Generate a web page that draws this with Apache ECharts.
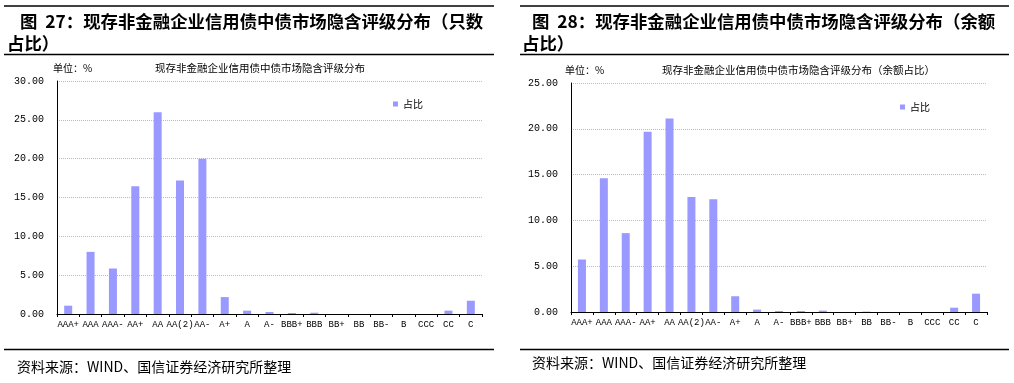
<!DOCTYPE html>
<html><head><meta charset="utf-8">
<script src="https://cdn.jsdelivr.net/npm/echarts@6/dist/echarts.min.js"></script>
<style>html,body{margin:0;padding:0;background:#fff}#c{width:1014px;height:383px}</style>
</head><body><div id="c"></div>
<script>
const categories = ['AAA+','AAA','AAA-','AA+','AA','AA(2)','AA-','A+','A','A-','BBB+','BBB','BB+','BB','BB-','B','CCC','CC','C'];
const countShare = [1.07,8.0,5.86,16.44,25.98,17.2,20.0,2.18,0.43,0.26,0.13,0.17,0,0,0,0,0,0.43,1.71];
const amountShare = [5.73,14.6,8.61,19.67,21.13,12.55,12.3,1.72,0.26,0.11,0.11,0.15,0,0.04,0,0,0,0.47,2.0];
const seriesName = '占比';
const leftTitle1 = '图  27：现存非金融企业信用债中债市场隐含评级分布（只数';
const leftTitle2 = '占比）';
const rightTitle1 = '图  28：现存非金融企业信用债中债市场隐含评级分布（余额';
const rightTitle2 = '占比）';
const leftSub = '现存非金融企业信用债中债市场隐含评级分布';
const rightSub = '现存非金融企业信用债中债市场隐含评级分布（余额占比）';
const unitText = '单位：%';
const sourceText = '资料来源：WIND、国信证券经济研究所整理';

const BAR = '#9999FF';
const CJK = '"Noto Sans CJK SC", sans-serif';
const MONO = '"Liberation Mono", monospace';

function xAxis(gi){
  return {type:'category', gridIndex:gi, data:categories,
    axisLine:{lineStyle:{color:'#000',width:1}},
    axisTick:{show:true, inside:false, length:3, lineStyle:{color:'#000'}},
    axisLabel:{interval:0, color:'#000', fontFamily:MONO, fontSize:9, margin:6}};
}
function yAxis(gi,max){
  return {type:'value', gridIndex:gi, min:0, max:max, interval:5,
    axisLine:{show:true, lineStyle:{color:'#000',width:1}},
    axisTick:{show:false},
    splitLine:{show:true, lineStyle:{color:'#bbb', type:'dotted', width:1}},
    axisLabel:{color:'#000', fontFamily:MONO, fontSize:10, margin:13, formatter:v=>v.toFixed(2)}};
}
function txt(x,y,text,font,align){
  return {type:'text', x:x, y:y, silent:true,
    style:{text:text, font:font, fill:'#000', align:align||'left', verticalAlign:'middle'}};
}
function hline(x1,x2,y){
  return {type:'line', silent:true, shape:{x1:x1,y1:y,x2:x2,y2:y}, style:{stroke:'#000', lineWidth:1.5}};
}

const chart = echarts.init(document.getElementById('c'), null, {renderer:'canvas'});
chart.setOption({
  animation:false,
  backgroundColor:'#fff',
  grid:[
    {left:57, top:81, width:425, height:233},
    {left:571, top:83, width:416, height:229}
  ],
  xAxis:[xAxis(0), xAxis(1)],
  yAxis:[yAxis(0,30), yAxis(1,25)],
  legend:[
    {left:388, top:94, icon:'rect', itemWidth:5, itemHeight:5, itemGap:4, data:[seriesName],
     textStyle:{fontFamily:CJK, fontSize:10, color:'#000'}},
    {left:895, top:97, icon:'rect', itemWidth:5, itemHeight:5, itemGap:4, data:[seriesName],
     textStyle:{fontFamily:CJK, fontSize:10, color:'#000'}}
  ],
  series:[
    {name:seriesName, type:'bar', xAxisIndex:0, yAxisIndex:0, data:countShare, barWidth:8, itemStyle:{color:BAR}},
    {name:seriesName, type:'bar', xAxisIndex:1, yAxisIndex:1, data:amountShare, barWidth:8, itemStyle:{color:BAR}}
  ],
  graphic:[
    hline(4,494,6), hline(4,494,54.5), hline(4,494,349.5),
    hline(520,1009,6), hline(520,1009,54.5), hline(520,1009,349.5),
    txt(20,21.5,leftTitle1,'bold 17.4px '+CJK),
    txt(7,43.5,leftTitle2,'bold 17.4px '+CJK),
    txt(532,21.5,rightTitle1,'bold 17.4px '+CJK),
    txt(522,43.5,rightTitle2,'bold 17.4px '+CJK),
    txt(53,68,unitText,'10px '+CJK),
    txt(155,68,leftSub,'10.5px '+CJK),
    txt(565,70,unitText,'10px '+CJK),
    txt(662,70,rightSub,'10.5px '+CJK),
    txt(17,367,sourceText,'14px '+CJK),
    txt(532,363,sourceText,'14px '+CJK)
  ]
});
</script></body></html>
